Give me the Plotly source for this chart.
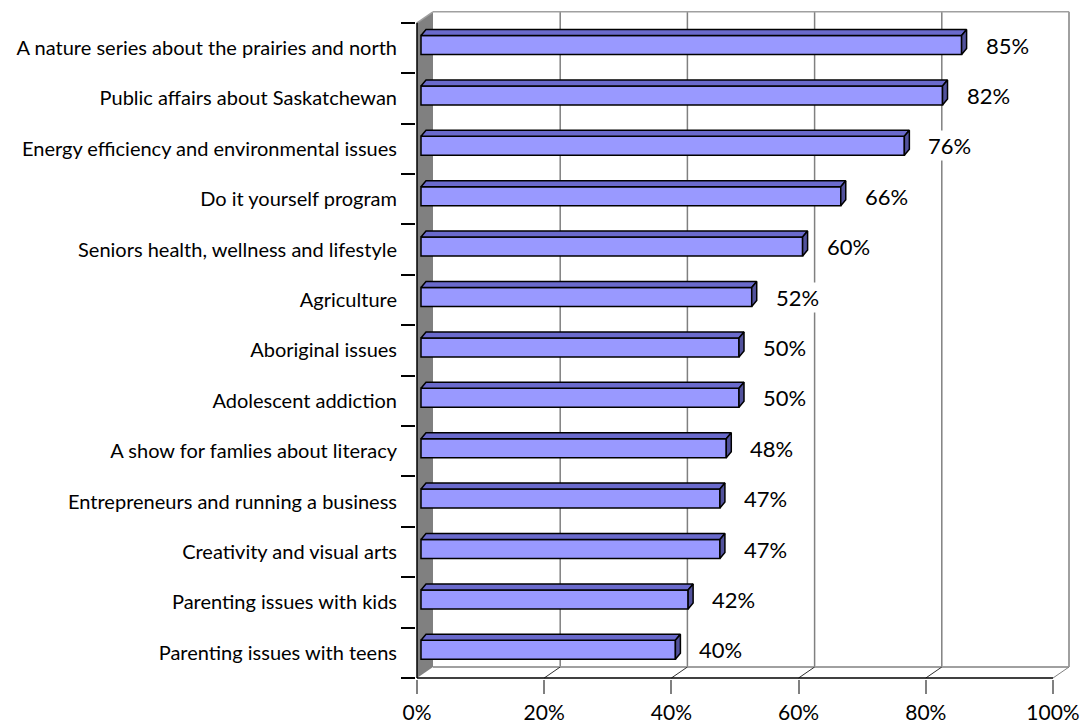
import plotly.graph_objects as go

# Survey results: share of respondents interested in each programme topic
categories = [
    "A nature series about the prairies and north",
    "Public affairs about Saskatchewan",
    "Energy efficiency and environmental issues",
    "Do it yourself program",
    "Seniors health, wellness and lifestyle",
    "Agriculture",
    "Aboriginal issues",
    "Adolescent addiction",
    "A show for famlies about literacy",
    "Entrepreneurs and running a business",
    "Creativity and visual arts",
    "Parenting issues with kids",
    "Parenting issues with teens",
]
values = [85, 82, 76, 66, 60, 52, 50, 50, 48, 47, 47, 42, 40]
x_ticks = [0, 20, 40, 60, 80, 100]
x_tick_labels = ["0%", "20%", "40%", "60%", "80%", "100%"]

# ---- page geometry (pixels) ----
W, H = 1086, 727
PX_PER_PCT = 6.36          # horizontal scale
PX_PER_CAT = 50.4          # height of one category band
X0_PX = 417                # front plane, 0 %
FRONT_BOTTOM_PX = 678      # front plane, bottom edge
PLOT_L, PLOT_R, PLOT_T, PLOT_B = 416, 1070, 9, 679

def dx(px):
    return px / PX_PER_PCT

def dy(px):
    return px / PX_PER_CAT

n = len(categories)
# bottom category sits at y = 0, top at y = n - 1
ypos = [n - 1 - i for i in range(n)]

x_min = (PLOT_L - X0_PX) / PX_PER_PCT
x_max = (PLOT_R - X0_PX) / PX_PER_PCT
y_min = -0.5 - dy(PLOT_B - FRONT_BOTTOM_PX)
y_max = -0.5 + dy(FRONT_BOTTOM_PX - PLOT_T)

# depth of the 3-D walls and of the bars
WALL_DX, WALL_DY = dx(16), dy(11)
BAR_X0, BAR_LIFT = dx(4), dy(3)
BAR_H = dy(19)
BAR_DX, BAR_DY = dx(5), dy(6)

FRONT = "#9999FF"
TOP = "#6A6ACC"
SIDE = "#52529C"
GRID = "#808080"
FONT = "Lato"

fig = go.Figure()

# front faces of the bars
fig.add_trace(go.Bar(
    orientation="h",
    y=[y + BAR_LIFT for y in ypos],
    x=values,
    base=BAR_X0,
    width=BAR_H,
    marker=dict(color=FRONT, line=dict(color="black", width=1.5)),
    hoverinfo="skip",
    showlegend=False,
))

# top and side faces of the bars
top_x, top_y, side_x, side_y = [], [], [], []
for v, y in zip(values, ypos):
    yc = y + BAR_LIFT
    y_top, y_bot = yc + BAR_H / 2, yc - BAR_H / 2
    x_end = BAR_X0 + v
    top_x += [BAR_X0, x_end, x_end + BAR_DX, BAR_X0 + BAR_DX, BAR_X0, None]
    top_y += [y_top, y_top, y_top + BAR_DY, y_top + BAR_DY, y_top, None]
    side_x += [x_end, x_end, x_end + BAR_DX, x_end + BAR_DX, x_end, None]
    side_y += [y_bot, y_top, y_top + BAR_DY, y_bot + BAR_DY, y_bot, None]

for xs, ys, col in [(top_x, top_y, TOP), (side_x, side_y, SIDE)]:
    fig.add_trace(go.Scatter(
        x=xs, y=ys, mode="lines", fill="toself", fillcolor=col,
        line=dict(color="black", width=1.5), connectgaps=False,
        hoverinfo="skip", showlegend=False,
    ))

# invisible trace for the boundary tick axis
fig.add_trace(go.Scatter(x=[None], y=[None], yaxis="y2", showlegend=False,
                         hoverinfo="skip"))

shapes = []
back_bottom, back_top = -0.5 + WALL_DY, n - 0.5 + WALL_DY
front_top = n - 0.5

# left wall
shapes.append(dict(
    type="path", xref="x", yref="y", layer="below",
    path=f"M 0 {-0.5} L 0 {front_top} L {WALL_DX} {back_top} L {WALL_DX} {back_bottom} Z",
    fillcolor="#808080", line=dict(width=0),
))
# back wall gridlines
for v in x_ticks[1:]:
    shapes.append(dict(type="line", xref="x", yref="y", layer="below",
                       x0=v + WALL_DX, x1=v + WALL_DX, y0=back_bottom, y1=back_top,
                       line=dict(color=GRID, width=1.5)))
# back wall top edge and left wall top edge
shapes.append(dict(type="line", xref="x", yref="y", layer="below",
                   x0=WALL_DX, x1=100 + WALL_DX, y0=back_top, y1=back_top,
                   line=dict(color="#A0A0A0", width=1.5)))
shapes.append(dict(type="line", xref="x", yref="y", layer="below",
                   x0=0, x1=WALL_DX, y0=front_top, y1=back_top,
                   line=dict(color="#A0A0A0", width=1.5)))
# floor back edge
shapes.append(dict(type="line", xref="x", yref="y", layer="below",
                   x0=WALL_DX, x1=100 + WALL_DX, y0=back_bottom, y1=back_bottom,
                   line=dict(color="#A0A0A0", width=2)))
# floor diagonals
for v in x_ticks[1:]:
    shapes.append(dict(type="line", xref="x", yref="y", layer="below",
                       x0=v, x1=v + WALL_DX, y0=-0.5, y1=back_bottom,
                       line=dict(color="#303030" if v < 100 else GRID, width=1)))
# front axis lines
shapes.append(dict(type="line", xref="x", yref="y", layer="above",
                   x0=0, x1=100, y0=-0.5, y1=-0.5,
                   line=dict(color="black", width=1.5)))
shapes.append(dict(type="line", xref="x", yref="y", layer="above",
                   x0=0, x1=0, y0=-0.5, y1=front_top,
                   line=dict(color="black", width=1.5)))

# value labels
annotations = []
for v, y in zip(values, ypos):
    annotations.append(dict(
        x=BAR_X0 + v + dx(22), y=y + BAR_LIFT, xref="x", yref="y",
        text=f"{v}%", showarrow=False, xanchor="left", yanchor="middle",
        bgcolor="white", font=dict(family=FONT, size=22, color="black"),
    ))

fig.update_layout(
    width=W, height=H,
    margin=dict(l=PLOT_L, r=W - PLOT_R, t=PLOT_T, b=H - PLOT_B, pad=0,
                autoexpand=False),
    paper_bgcolor="white", plot_bgcolor="white",
    font=dict(family=FONT, color="black"),
    showlegend=False,
    barmode="overlay",
    shapes=shapes,
    annotations=annotations,
    xaxis=dict(
        range=[x_min, x_max], tickvals=x_ticks, ticktext=x_tick_labels,
        ticks="outside", ticklen=14, tickwidth=2, tickcolor=GRID,
        showgrid=False, zeroline=False, showline=False, automargin=False,
        tickfont=dict(family=FONT, size=21, color="black"),
        ticklabelstandoff=1,
    ),
    yaxis=dict(
        range=[y_min, y_max], tickvals=ypos, ticktext=categories,
        ticks="", showgrid=False, zeroline=False, showline=False,
        automargin=False,
        tickfont=dict(family=FONT, size=20, color="black"),
        ticklabelstandoff=18,
    ),
    yaxis2=dict(
        range=[y_min, y_max], overlaying="y", side="left", anchor="x",
        tickvals=[k - 0.5 for k in range(n + 1)],
        ticks="outside", ticklen=14, tickwidth=1.5, tickcolor="black",
        showticklabels=False, showgrid=False, zeroline=False, showline=False,
        automargin=False,
    ),
)

fig.write_html("out.html")
